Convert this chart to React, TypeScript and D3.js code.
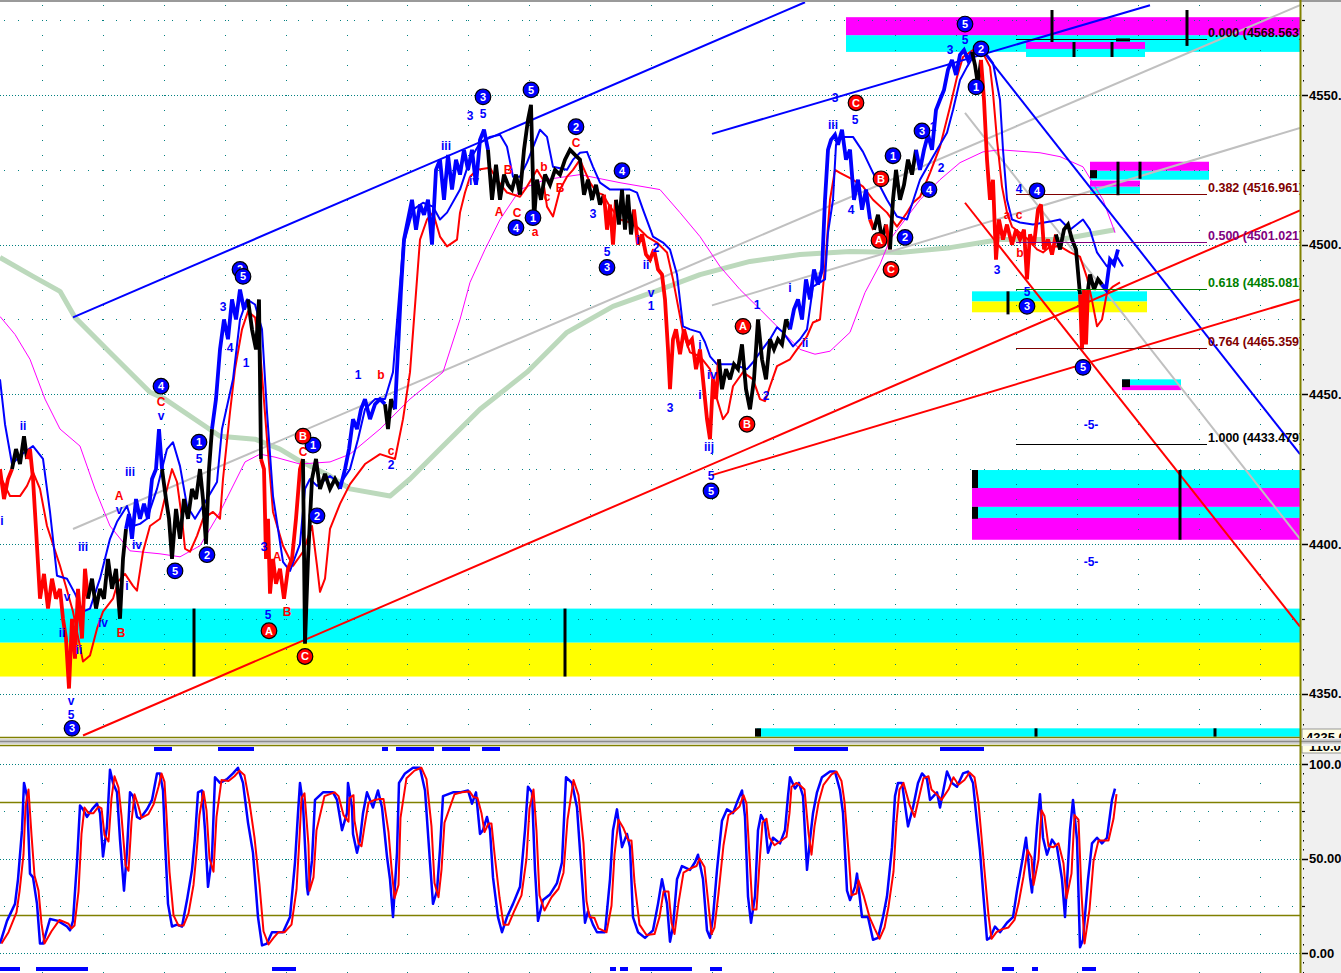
import React from "react";
import * as d3 from "d3";

const FONT = "'Liberation Sans', Arial, Helvetica, sans-serif";

// ---------------- DATA ----------------
// main price path [time, price, trend state b=up r=down k=neutral]
const pricePath: [number, number, string][] = [
  [0,4425.0,'r'],[4,4415.0,'r'],[8,4421.7,'r'],[12,4425.0,'r'],
  [16,4431.7,'k'],[20,4426.7,'k'],[24,4436.0,'k'],[27,4428.4,'k'],
  [30,4431.7,'r'],[33,4421.7,'r'],[36,4405.0,'r'],[40,4381.7,'r'],[44,4390.0,'r'],[48,4378.4,'r'],[52,4388.4,'r'],[56,4381.7,'r'],[60,4385.0,'r'],[63,4375.0,'r'],[66,4368.4,'r'],[69,4351.7,'r'],[72,4375.0,'r'],[75,4361.7,'r'],[78,4385.0,'r'],[82,4368.4,'r'],[85,4391.7,'r'],[88,4381.7,'r'],
  [92,4388.4,'k'],[96,4378.4,'k'],[100,4385.0,'k'],[104,4381.7,'k'],[108,4395.0,'k'],[112,4385.0,'k'],[116,4391.7,'k'],[120,4375.0,'k'],[123,4395.0,'k'],[126,4405.0,'k'],
  [129,4410.0,'b'],[132,4401.7,'b'],[136,4415.0,'b'],[140,4408.4,'b'],[144,4413.4,'b'],[148,4408.4,'b'],[152,4421.7,'b'],[156,4425.0,'b'],[159,4438.4,'b'],[162,4425.0,'b'],
  [166,4415.0,'k'],[169,4408.4,'k'],[172,4395.0,'k'],[176,4411.7,'k'],[180,4401.7,'k'],[184,4415.0,'k'],[188,4408.4,'k'],[192,4418.4,'k'],[196,4415.0,'k'],[200,4425.0,'k'],[203,4415.0,'k'],[206,4400.0,'k'],[209,4425.0,'k'],[212,4438.4,'k'],
  [216,4448.4,'b'],[220,4465.0,'b'],[224,4475.0,'b'],[228,4468.4,'b'],[232,4481.7,'b'],[236,4475.0,'b'],[240,4485.0,'b'],[244,4478.4,'b'],[248,4481.7,'b'],
  [252,4471.7,'k'],[256,4465.0,'k'],[259,4481.7,'k'],[261,4428.4,'k'],
  [264,4425.0,'r'],[266,4395.0,'r'],[268,4408.4,'r'],[270,4383.4,'r'],[273,4395.0,'r'],[276,4386.7,'r'],[280,4391.7,'r'],[284,4381.7,'r'],[288,4391.7,'r'],[292,4395.0,'r'],[296,4408.4,'r'],[300,4425.0,'r'],[303,4428.4,'r'],
  [305,4366.7,'k'],[308,4395.0,'k'],[312,4421.7,'k'],[316,4428.4,'k'],[320,4418.4,'k'],[325,4423.4,'k'],[330,4418.4,'k'],[335,4421.7,'k'],[340,4418.4,'k'],
  [345,4425.0,'b'],[349,4431.7,'b'],[353,4441.7,'b'],[357,4438.4,'b'],[361,4445.0,'b'],[365,4448.4,'b'],[370,4441.7,'b'],[375,4446.7,'b'],[380,4448.4,'b'],[385,4446.7,'b'],
  [388,4438.4,'k'],[391,4448.4,'k'],[395,4445.0,'k'],
  [398,4465.0,'b'],[401,4485.0,'b'],[404,4501.7,'b'],[408,4508.4,'b'],[412,4515.0,'b'],[416,4505.0,'b'],[420,4513.4,'b'],[424,4510.0,'b'],[428,4515.0,'b'],[432,4500.0,'b'],[436,4525.0,'b'],[440,4528.4,'b'],[444,4515.0,'b'],[448,4530.0,'b'],[452,4518.4,'b'],[456,4528.4,'b'],[460,4523.4,'b'],[464,4531.7,'b'],[468,4525.0,'b'],[472,4531.7,'b'],[476,4520.0,'b'],[480,4535.0,'b'],[484,4538.4,'b'],[488,4531.7,'b'],
  [492,4515.0,'k'],[496,4526.7,'k'],[500,4515.0,'k'],[504,4523.4,'k'],[508,4520.0,'k'],[512,4518.4,'k'],[516,4523.4,'k'],[520,4516.7,'k'],[524,4531.7,'k'],[528,4541.7,'k'],[531,4546.7,'k'],[534,4508.4,'k'],[537,4521.7,'k'],[541,4515.0,'k'],[545,4523.4,'k'],[550,4520.0,'k'],[555,4525.0,'k'],[560,4523.4,'k'],[565,4528.4,'k'],[570,4531.7,'k'],[575,4530.0,'k'],[580,4528.4,'k'],[584,4516.7,'k'],[588,4521.7,'k'],[592,4515.0,'k'],[596,4520.0,'k'],[600,4513.4,'k'],[604,4516.7,'k'],
  [607,4505.0,'r'],[610,4513.4,'r'],[613,4500.0,'r'],[616,4515.0,'r'],
  [619,4506.7,'k'],[622,4518.4,'k'],[625,4505.0,'k'],[628,4516.7,'k'],[631,4503.4,'k'],[634,4511.7,'k'],
  [638,4500.0,'r'],[642,4503.4,'r'],[646,4496.7,'r'],[650,4495.0,'r'],[654,4498.4,'r'],[658,4491.7,'r'],[662,4490.0,'r'],[665,4481.7,'r'],[668,4465.0,'r'],[670,4451.7,'r'],[673,4468.4,'r'],[676,4471.7,'r'],[680,4463.4,'r'],[684,4471.7,'r'],[688,4466.7,'r'],[692,4468.4,'r'],[696,4458.4,'r'],[700,4465.0,'r'],[704,4451.7,'r'],[707,4441.7,'r'],[710,4435.0,'r'],[713,4455.0,'r'],[716,4448.4,'r'],[719,4461.7,'r'],
  [722,4451.7,'k'],[726,4458.4,'k'],[730,4455.0,'k'],[734,4460.0,'k'],[738,4458.4,'k'],[742,4466.7,'k'],[746,4451.7,'k'],[750,4445.0,'k'],[754,4455.0,'k'],[758,4475.0,'k'],[762,4461.7,'k'],[766,4455.0,'k'],[770,4468.4,'k'],[774,4465.0,'k'],[778,4468.4,'k'],[782,4466.7,'k'],[786,4475.0,'k'],[790,4471.7,'k'],
  [794,4478.4,'b'],[798,4481.7,'b'],[802,4475.0,'b'],[806,4488.4,'b'],[810,4481.7,'b'],[814,4491.7,'b'],[818,4486.7,'b'],[822,4491.7,'b'],[825,4515.0,'b'],[828,4531.7,'b'],[831,4535.0,'b'],[835,4536.7,'b'],[838,4533.4,'b'],[842,4538.4,'b'],[846,4528.4,'b'],[850,4531.7,'b'],[854,4515.0,'b'],[858,4521.7,'b'],[862,4511.7,'b'],[866,4518.4,'b'],[870,4508.4,'b'],
  [874,4505.0,'r'],[878,4510.0,'k'],[882,4501.7,'k'],[886,4506.7,'k'],[890,4498.4,'r'],[893,4515.0,'k'],[896,4525.0,'k'],[900,4515.0,'k'],[904,4520.0,'k'],[908,4528.4,'k'],[912,4523.4,'k'],[916,4531.7,'k'],
  [920,4525.0,'b'],[924,4531.7,'b'],[928,4536.7,'b'],[932,4531.7,'b'],[936,4545.0,'b'],[940,4548.4,'b'],[944,4551.7,'b'],[948,4558.4,'b'],[952,4561.7,'b'],[956,4556.7,'b'],[960,4563.4,'b'],[964,4565.0,'b'],[968,4561.7,'b'],[972,4564.4,'b'],
  [975,4560.0,'k'],[978,4553.4,'k'],[981,4561.7,'k'],
  [984,4548.4,'r'],[987,4528.4,'r'],[990,4515.0,'r'],[993,4521.7,'r'],[996,4495.0,'r'],[999,4508.4,'r'],[1003,4501.7,'r'],[1007,4506.7,'r'],[1012,4500.0,'r'],[1016,4505.0,'r'],[1020,4501.7,'r'],[1024,4505.0,'r'],[1027,4488.4,'r'],[1030,4503.4,'r'],[1034,4500.0,'r'],[1038,4511.7,'r'],[1041,4513.4,'r'],[1044,4498.4,'r'],[1048,4501.7,'r'],[1052,4496.7,'r'],[1056,4503.4,'r'],
  [1060,4498.4,'k'],[1064,4505.0,'k'],[1068,4506.7,'k'],[1072,4501.7,'k'],[1076,4498.4,'k'],[1080,4483.4,'k'],
  [1082,4465.0,'r'],[1084,4485.0,'r'],[1086,4466.7,'r'],[1088,4485.0,'r'],
  [1090,4490.0,'k'],[1094,4485.0,'k'],[1098,4488.4,'k'],[1102,4486.7,'k'],
  [1106,4485.0,'b'],[1110,4495.0,'b'],[1114,4493.4,'b'],[1118,4498.4,'b'],
];

// upper (blue) and lower (red) smoothed bands
const upperBand: [number, number][] = [
  [0,4455.0],[5,4440.0],[12,4426.7],[22,4430.0],[33,4432.7],[43,4428.4],[50,4410.7],[57,4389.4],[67,4388.4],[75,4383.4],[83,4377.4],[90,4378.4],[100,4388.4],[110,4401.7],[117,4407.4],[127,4412.7],[133,4406.0],[140,4406.7],[147,4408.4],[157,4418.4],[167,4431.7],[173,4434.0],[180,4426.0],[187,4412.7],[195,4408.4],[207,4415.0],[217,4420.7],[222,4438.4],[233,4455.0],[240,4475.0],[247,4481.7],[255,4480.0],[262,4471.7],[267,4444.0],[273,4416.0],[283,4394.0],[290,4391.0],[300,4400.0],[305,4418.4],[310,4421.7],[317,4419.4],[330,4422.7],[340,4420.0],[350,4425.0],[358,4435.0],[365,4445.0],[375,4448.4],[385,4448.4],[393,4457.4],[403,4499.4],[413,4511.7],[423,4514.0],[433,4512.7],[440,4508.4],[447,4510.7],[460,4518.4],[470,4528.4],[480,4534.0],[490,4536.0],[500,4536.7],[507,4532.7],[513,4522.7],[520,4522.7],[527,4527.4],[540,4538.4],[547,4536.0],[553,4526.0],[567,4525.0],[573,4528.4],[580,4530.7],[587,4531.0],[593,4526.0],[600,4520.7],[610,4518.4],[630,4518.4],[637,4517.4],[643,4511.7],[653,4502.7],[663,4500.7],[670,4498.4],[677,4490.0],[683,4472.7],[690,4471.7],[700,4470.7],[705,4467.4],[710,4462.7],[717,4460.0],[733,4460.0],[747,4458.4],[753,4460.7],[760,4464.0],[770,4468.4],[777,4472.4],[783,4470.7],[793,4466.0],[800,4468.4],[807,4471.7],[813,4486.0],[825,4488.4],[828,4504.0],[833,4515.0],[836,4533.4],[840,4536.0],[853,4536.0],[863,4531.0],[873,4524.0],[887,4515.0],[897,4509.4],[907,4508.4],[920,4521.7],[933,4529.4],[947,4537.4],[953,4545.0],[960,4555.0],[967,4559.4],[977,4565.0],[987,4563.4],[993,4560.7],[1000,4548.4],[1003,4531.7],[1007,4515.0],[1012,4508.4],[1020,4507.4],[1033,4506.7],[1050,4507.7],[1060,4508.4],[1070,4505.0],[1083,4508.4],[1090,4505.0],[1097,4497.4],[1107,4492.7],[1117,4496.0],[1123,4492.7],
];
const lowerBand: [number, number][] = [
  [0,4422.7],[10,4416.0],[20,4416.0],[27,4419.4],[33,4424.0],[40,4418.4],[47,4406.0],[60,4392.7],[73,4377.4],[83,4360.7],[90,4362.7],[97,4371.7],[103,4377.4],[113,4381.7],[118,4387.4],[125,4390.0],[133,4386.0],[137,4384.4],[143,4397.4],[150,4406.0],[160,4408.4],[167,4418.4],[172,4425.0],[177,4420.7],[182,4408.4],[185,4398.4],[190,4397.4],[197,4402.7],[203,4408.4],[213,4410.7],[220,4408.4],[223,4421.7],[230,4444.0],[235,4458.4],[242,4471.7],[248,4477.7],[255,4475.7],[260,4465.0],[267,4435.0],[273,4410.7],[283,4399.4],[293,4392.7],[303,4397.4],[312,4406.0],[317,4392.7],[320,4384.0],[325,4388.4],[330,4405.0],[340,4413.4],[350,4420.0],[365,4426.7],[380,4430.0],[395,4428.4],[403,4441.7],[410,4457.4],[417,4488.4],[420,4501.7],[427,4508.4],[433,4510.7],[440,4502.7],[447,4499.4],[457,4501.7],[460,4510.7],[465,4517.4],[470,4522.7],[477,4525.0],[490,4525.7],[497,4521.7],[507,4517.4],[520,4516.0],[527,4519.4],[537,4525.0],[543,4521.7],[547,4512.7],[553,4509.4],[560,4518.4],[567,4522.7],[573,4525.0],[580,4528.4],[583,4526.0],[590,4520.7],[597,4517.4],[603,4516.7],[610,4512.7],[620,4508.4],[630,4507.4],[637,4506.0],[647,4502.7],[657,4500.7],[667,4497.4],[673,4488.4],[683,4470.7],[690,4464.0],[700,4462.7],[710,4458.4],[717,4448.4],[723,4441.7],[728,4444.0],[733,4452.7],[743,4457.4],[753,4455.0],[760,4448.4],[765,4447.7],[770,4452.7],[777,4459.4],[790,4461.7],[797,4465.0],[807,4469.4],[813,4474.0],[820,4475.0],[825,4492.7],[830,4515.0],[835,4525.0],[840,4524.0],[853,4521.7],[863,4519.4],[873,4515.0],[887,4510.7],[897,4506.0],[907,4510.7],[913,4514.0],[920,4516.0],[930,4524.0],[940,4532.7],[950,4546.0],[957,4556.0],[963,4562.7],[973,4565.0],[983,4564.0],[990,4559.4],[993,4550.7],[997,4535.0],[1002,4519.4],[1007,4510.7],[1012,4506.0],[1020,4504.0],[1028,4501.7],[1037,4498.4],[1043,4497.4],[1050,4499.4],[1060,4499.4],[1070,4497.4],[1080,4496.0],[1087,4489.0],[1092,4481.4],[1097,4472.7],[1102,4475.0],[1107,4484.0],[1113,4486.0],[1120,4487.4],
];
// thin magenta average
const mediumAverage: [number, number][] = [
  [0,4476.0],[15,4470.0],[30,4461.7],[45,4448.4],[60,4438.4],[80,4432.7],[95,4418.4],[110,4406.0],[130,4397.7],[160,4396.7],[180,4395.7],[200,4399.4],[220,4410.7],[245,4427.4],[260,4430.0],[275,4429.0],[300,4426.7],[330,4427.4],[350,4430.0],[380,4438.4],[410,4448.4],[443,4457.4],[460,4475.0],[470,4487.4],[485,4498.4],[500,4508.4],[520,4518.4],[545,4521.7],[580,4523.4],[620,4520.7],[660,4518.4],[680,4510.7],[700,4502.7],[720,4492.7],[740,4485.0],[760,4478.4],[780,4471.7],[800,4465.0],[815,4463.4],[830,4464.4],[850,4470.7],[865,4484.0],[880,4493.4],[890,4501.7],[920,4515.0],[940,4521.7],[960,4527.4],[983,4531.0],[1000,4531.7],[1040,4530.7],[1060,4529.4],[1083,4526.0],[1103,4515.0],[1115,4504.0],
];
// thick sage long average
const longAverage: [number, number][] = [
  [0,4495.7],[33,4489.4],[60,4484.4],[75,4475.7],[110,4464.0],[150,4450.7],[165,4448.4],[220,4436.0],[255,4435.0],[280,4431.7],[300,4427.7],[330,4422.7],[350,4418.4],[390,4416.0],[410,4421.7],[440,4431.7],[480,4445.0],[527,4457.4],[567,4470.7],[613,4479.4],[660,4485.0],[700,4490.0],[750,4494.4],[800,4496.7],[850,4497.7],[900,4497.4],[950,4499.0],[1000,4501.7],[1060,4501.7],[1115,4505.0],
];

// trendlines [t1, p1, t2, p2]
const blueTrendlines: [number, number, number, number][] = [
  [73,4475.7,805,4581.0],[712,4537.0,1150,4580.0],[982,4565.0,1300,4430.0],
];
const grayTrendlines: [number, number, number, number][] = [
  [73,4405.0,1300,4580.0],[712,4479.7,1300,4539.0],[965,4544.0,1300,4401.7],
];
const redTrendlines: [number, number, number, number][] = [
  [83,4336.0,1300,4511.4],[712,4423.0,1300,4481.7],[965,4514.0,1300,4372.4],
];

// Fibonacci retracement
const fibHigh = 4568.563;
const fibLow = 4433.479;
const fibRatios = [0, 0.382, 0.5, 0.618, 0.764, 1];
const fibSpan: [number, number] = [1016, 1207];

// zones [t1, t2, pTop, pBottom]
const cyanZones: [number, number, number, number][] = [
  [846,1300,4570.0,4564.4],[1026,1145,4565.4,4562.7],[1090,1209,4524.7,4521.7],[1090,1140,4519.4,4517.0],
  [972,1147,4484.4,4481.0],[1122,1181,4455.0,4453.0],[972,1300,4424.7,4418.7],[972,1300,4412.4,4408.7],
  [0,1300,4378.4,4367.0],[757,1300,4338.4,4335.6],
];
const magentaZones: [number, number, number, number][] = [
  [846,1300,4576.0,4570.0],[1026,1145,4567.7,4565.4],[1090,1209,4527.7,4524.7],[1090,1140,4521.4,4519.4],
  [1122,1181,4453.0,4451.4],[972,1300,4418.7,4412.4],[972,1300,4408.7,4401.4],
];
const yellowZones: [number, number, number, number][] = [
  [972,1147,4481.0,4477.4],[0,1300,4367.0,4355.7],
];
const rangeBars: [number, number, number][] = [
  [1052,4578.4,4567.7],[1074,4567.7,4562.7],[1112,4567.7,4562.7],[1187,4578.4,4566.4],
  [1118,4527.7,4516.5],[1140,4527.7,4522.0],[1008,4484.4,4476.7],[1180,4424.7,4401.4],
  [194,4378.4,4355.7],[565,4378.4,4355.7],[1036,4338.4,4335.6],[1215,4338.4,4335.6],
];
const blockMarks: [number, number, number, number][] = [
  [1090,1097,4524.9,4522.2],[1122,1130,4455.0,4452.4],[972,978,4424.7,4418.7],[972,978,4412.4,4408.4],
  [755,761,4338.4,4335.6],[1116,1130,4568.9,4567.9],
];

// wave labels [t, price, text]
const circledBlue: [number, number, string][] = [
  [72,4338.4,'3'],[161,4452.7,'4'],[175,4391.0,'5'],[199,4434.0,'1'],[207,4396.4,'2'],[240,4491.7,'2'],[243,4489.4,'5'],
  [313,4433.0,'1'],[317,4409.4,'2'],[483,4549.4,'3'],[531,4551.7,'5'],[516,4505.7,'4'],[533,4509.0,'1'],[576,4539.4,'2'],
  [622,4524.7,'4'],[607,4492.4,'3'],[711,4417.7,'5'],[893,4529.7,'1'],[922,4538.0,'3'],[929,4518.4,'4'],[905,4502.4,'2'],
  [965,4573.7,'5'],[981,4565.4,'2'],[976,4552.7,'1'],[1037,4518.0,'4'],[1027,4479.4,'3'],[1083,4459.0,'5'],
];
const circledRed: [number, number, string][] = [
  [269,4371.0,'A'],[303,4436.0,'B'],[305,4362.4,'C'],[743,4472.7,'A'],[747,4440.0,'B'],[856,4547.4,'C'],
  [881,4522.0,'B'],[879,4501.4,'A'],[891,4491.7,'C'],
];
const textBlue: [number, number, string][] = [
  [2,4407.7,'i'],[23,4439.4,'ii'],[62,4370.4,'ii'],[79,4364.7,'ii'],[83,4399.0,'iii'],[67,4382.4,'v'],[71,4347.7,'v'],[71,4343.0,'5'],
  [103,4373.7,'iv'],[119,4411.4,'v'],[130,4424.0,'iii'],[137,4399.7,'iv'],[127,4386.0,'i'],[161,4443.0,'v'],[199,4428.4,'5'],
  [223,4479.4,'3'],[230,4465.7,'4'],[246,4460.7,'1'],[264,4399.0,'3'],[268,4376.4,'5'],[358,4456.7,'1'],[391,4426.4,'2'],
  [399,4469.4,'i'],[446,4533.0,'iii'],[474,4521.4,'iv'],[470,4543.0,'3'],[483,4543.7,'5'],[593,4510.4,'3'],[607,4497.7,'5'],
  [638,4501.7,'i'],[646,4493.4,'ii'],[651,4484.0,'v'],[651,4479.7,'1'],[656,4499.0,'2'],[670,4445.4,'3'],[700,4466.7,'i'],
  [700,4450.0,'i'],[712,4456.7,'iv'],[709,4432.4,'iij'],[711,4422.7,'5'],[757,4480.0,'1'],[766,4449.4,'2'],[790,4485.7,'i'],
  [805,4467.4,'ii'],[833,4540.0,'iii'],[855,4541.7,'5'],[851,4511.7,'4'],[835,4549.0,'3'],[950,4565.0,'3'],[965,4568.4,'5'],
  [933,4539.4,'1'],[941,4525.7,'2'],[997,4491.7,'3'],[1019,4518.7,'4'],[1027,4484.4,'5'],[1091,4439.7,'-5-'],[1091,4394.0,'-5-'],
];
const textRed: [number, number, string][] = [
  [161,4447.7,'C'],[119,4416.0,'A'],[121,4370.4,'B'],[277,4395.7,'A'],[287,4377.4,'B'],[303,4430.7,'C'],[381,4456.7,'b'],
  [391,4431.0,'c'],[499,4511.0,'A'],[517,4510.7,'C'],[535,4504.4,'a'],[508,4525.0,'B'],[544,4526.0,'b'],[576,4534.0,'C'],
  [560,4519.0,'B'],[547,4516.0,'c'],[1007,4510.0,'a'],[1019,4510.0,'c'],[1020,4497.4,'b'],
];

// stochastic %K [t, value]
const stochK: [number, number][] = [
  [0,5],[7,17],[15,26],[18,39],[22,65],[24,90],[27,83],[30,42],[33,40],[37,26],[40,5],[43,5],[50,18],[58,17],[67,14],[70,12],[73,17],[77,48],[80,78],[83,76],[87,72],[92,76],[97,79],[100,74],[103,51],[107,67],[110,97],[113,90],[117,85],[120,60],[124,33],[127,54],[130,85],[133,83],[137,72],[140,71],[147,76],[152,81],[157,95],[160,95],[163,86],[165,60],[168,26],[172,14],[177,15],[182,14],[187,28],[192,44],[195,61],[198,85],[202,86],[205,65],[208,35],[212,51],[215,93],[220,90],[227,92],[233,95],[238,98],[243,90],[248,69],[253,53],[258,19],[262,4],[267,5],[272,11],[277,11],[283,11],[290,19],[295,48],[298,74],[300,90],[303,79],[307,35],[308,31],[312,49],[315,81],[323,85],[333,85],[337,81],[342,65],[347,74],[348,90],[352,77],[353,63],[357,53],[360,60],[363,74],[367,85],[373,77],[378,86],[382,77],[387,51],[390,39],[393,19],[397,53],[399,90],[405,95],[413,98],[420,98],[425,86],[430,48],[433,26],[437,33],[440,55],[443,83],[453,85],[460,85],[468,86],[472,79],[476,85],[480,63],[483,65],[487,72],[490,65],[493,40],[498,19],[502,11],[507,19],[513,26],[520,35],[525,65],[528,88],[532,85],[535,44],[538,17],[543,28],[550,31],[557,37],[562,48],[566,93],[572,90],[577,77],[582,39],[585,16],[588,22],[593,15],[597,11],[605,11],[610,39],[613,65],[617,76],[622,56],[627,63],[630,56],[633,19],[638,11],[645,8],[653,12],[658,26],[662,39],[667,26],[670,6],[673,14],[677,39],[682,46],[690,44],[695,48],[698,52],[703,39],[707,12],[710,8],[713,19],[717,44],[722,70],[727,76],[733,74],[738,81],[742,86],[745,72],[748,30],[751,16],[755,30],[758,65],[761,73],[765,69],[768,53],[773,61],[780,58],[785,65],[788,83],[790,93],[795,87],[799,90],[803,83],[807,44],[810,60],[813,74],[817,85],[822,93],[830,96],[835,96],[840,86],[843,74],[847,33],[850,28],[855,35],[857,42],[862,19],[868,19],[873,7],[878,8],[883,19],[887,30],[892,56],[895,83],[898,90],[902,90],[908,67],[913,77],[918,90],[922,95],[927,92],[930,81],[937,85],[940,77],[947,96],[952,90],[957,88],[963,95],[968,96],[973,90],[977,69],[980,54],[983,33],[987,7],[990,8],[995,14],[1000,11],[1007,16],[1013,19],[1017,33],[1022,48],[1026,61],[1030,40],[1032,32],[1037,67],[1040,84],[1043,61],[1047,52],[1052,60],[1057,56],[1062,39],[1065,19],[1070,65],[1073,81],[1077,60],[1080,3],[1083,7],[1088,39],[1092,58],[1097,61],[1102,58],[1107,61],[1112,81],[1115,87],
];
const oscTopMarks: [number, number][] = [[154,172],[218,254],[382,388],[396,434],[442,470],[482,500],[794,848],[940,984]];
const oscBottomMarks: [number, number][] = [[0,20],[36,88],[272,296],[610,616],[620,628],[640,692],[710,722],[1002,1014],[1032,1038],[1082,1096]];

const priceTicks = [4550, 4500, 4450, 4400, 4350];
const oscTicks: [number, string][] = [[100, '100.0'], [50, '50.00'], [0, '0.00']];

// ---------------- LAYOUT ----------------
const W = 1341, H = 973;
const RIGHT = 1300;
const MAIN_TOP = 2, MAIN_BOT = 737;
const OSC_TOP = 746, OSC_BOT = 973;

const xT = d3.scaleLinear().domain([0, 1300]).range([0, RIGHT]);
const yP = d3.scaleLinear().domain([4350, 4550]).range([693.6, 95]);
const yO = d3.scaleLinear().domain([0, 100]).range([953, 764]);

const lineP = d3.line<[number, number]>().x(d => xT(d[0])).y(d => yP(d[1]));
const lineO = d3.line<[number, number]>().x(d => xT(d[0])).y(d => yO(d[1]));

const TEAL = '#008080';
const OLIVE = '#808000';
const colorOf: Record<string, string> = { b: '#0000ff', r: '#ff0000', k: '#000000' };
const fibColors = ['#1a0000', '#800000', '#800080', '#008000', '#800000', '#000000'];

function priceSegments() {
  const segs: { c: string; pts: [number, number][] }[] = [];
  let cur = { c: pricePath[0][2], pts: [[pricePath[0][0], pricePath[0][1]] as [number, number]] };
  for (let i = 1; i < pricePath.length; i++) {
    const p = pricePath[i];
    if (p[2] === cur.c) cur.pts.push([p[0], p[1]]);
    else {
      segs.push(cur);
      const q = pricePath[i - 1];
      cur = { c: p[2], pts: [[q[0], q[1]], [p[0], p[1]]] };
    }
  }
  segs.push(cur);
  return segs;
}

function stochD(): [number, number][] {
  return stochK.map((d, i) => {
    const prev = stochK[Math.max(0, i - 1)];
    return [d[0], (d[1] + prev[1]) / 2];
  });
}

export default function App() {
  const segs = priceSegments();
  const dLine = stochD();

  const colTs = d3.range(0, 21).map(k => 42 + k * 60.9);
  const mainDotPrices = d3.range(4335, 4581, 5);
  const oscDotVals = d3.range(-10, 111, 10);

  const fibLevels = fibRatios.map(r => ({ r, p: fibHigh - r * (fibHigh - fibLow) }));

  const circle = (d: [number, number, string], fill: string, key: string) => (
    <g key={key} transform={`translate(${xT(d[0])},${yP(d[1])})`}>
      <circle r={7.8} fill={fill} stroke="#000" strokeWidth={1.2} />
      <text textAnchor="middle" dy="0.36em" fontSize={11} fontWeight="bold" fill="#fff" fontFamily={FONT}>{d[2]}</text>
    </g>
  );

  return (
    <svg width={W} height={H} style={{ position: 'absolute', left: 0, top: 0, display: 'block', background: '#fff' }}>
      <style>{`body{margin:0}`}</style>
      <defs>
        <clipPath id="clipMain"><rect x={0} y={MAIN_TOP} width={RIGHT} height={MAIN_BOT - MAIN_TOP} /></clipPath>
        <clipPath id="clipOsc"><rect x={0} y={OSC_TOP} width={RIGHT} height={OSC_BOT - OSC_TOP} /></clipPath>
        <clipPath id="clipAxisMainBottom"><rect x={RIGHT + 1} y={700} width={60} height={38} /></clipPath>
        <clipPath id="clipAxisOscTop"><rect x={RIGHT + 1} y={746} width={60} height={30} /></clipPath>
      </defs>

      <rect x={RIGHT + 1} y={0} width={W - RIGHT} height={H} fill="#f0f0f0" />
      <rect x={0} y={0} width={W} height={2} fill="#9a9a9a" />

      {/* ---------- MAIN PANEL ---------- */}
      <g clipPath="url(#clipMain)">
        {cyanZones.map((z, i) => <rect key={'c' + i} x={xT(z[0])} y={yP(z[2])} width={xT(z[1]) - xT(z[0])} height={yP(z[3]) - yP(z[2])} fill="#00ffff" />)}
        {magentaZones.map((z, i) => <rect key={'m' + i} x={xT(z[0])} y={yP(z[2])} width={xT(z[1]) - xT(z[0])} height={yP(z[3]) - yP(z[2])} fill="#ff00ff" />)}
        {yellowZones.map((z, i) => <rect key={'y' + i} x={xT(z[0])} y={yP(z[2])} width={xT(z[1]) - xT(z[0])} height={yP(z[3]) - yP(z[2])} fill="#ffff00" />)}

        {priceTicks.map(p => <line key={'g' + p} x1={0} x2={RIGHT} y1={Math.round(yP(p)) + 0.5} y2={Math.round(yP(p)) + 0.5} stroke={TEAL} strokeDasharray="1,2" />)}
        {priceTicks.map(p => <line key={'gs' + p} x1={4} x2={RIGHT} y1={Math.round(yP(p + 25)) + 0.5} y2={Math.round(yP(p + 25)) + 0.5} stroke={TEAL} strokeDasharray="1,13" />)}
        {colTs.map((t, i) => (
          <g key={'col' + i}>
            {mainDotPrices.map(p => <rect key={p} x={Math.round(xT(t))} y={Math.round(yP(p))} width={1} height={1} fill={TEAL} />)}
          </g>
        ))}

        <path d={lineP(longAverage) || ''} fill="none" stroke="#bcd9bc" strokeWidth={5} strokeLinejoin="round" />
        {grayTrendlines.map((l, i) => <line key={'gr' + i} x1={xT(l[0])} y1={yP(l[1])} x2={xT(l[2])} y2={yP(l[3])} stroke="#c0c0c0" strokeWidth={2} />)}
        <path d={lineP(mediumAverage) || ''} fill="none" stroke="#ff00ff" strokeWidth={1} />
        <path d={lineP(lowerBand) || ''} fill="none" stroke="#ff0000" strokeWidth={2} strokeLinejoin="round" />
        <path d={lineP(upperBand) || ''} fill="none" stroke="#0000ff" strokeWidth={2} strokeLinejoin="round" />
        {blueTrendlines.map((l, i) => <line key={'bl' + i} x1={xT(l[0])} y1={yP(l[1])} x2={xT(l[2])} y2={yP(l[3])} stroke="#0000ff" strokeWidth={2} />)}
        {redTrendlines.map((l, i) => <line key={'rl' + i} x1={xT(l[0])} y1={yP(l[1])} x2={xT(l[2])} y2={yP(l[3])} stroke="#ff0000" strokeWidth={2} />)}

        {segs.map((s, i) => <path key={'s' + i} d={lineP(s.pts) || ''} fill="none" stroke={colorOf[s.c]} strokeWidth={3.8} strokeLinejoin="miter" strokeMiterlimit={3} />)}

        {fibLevels.map((f, i) => (
          <g key={'f' + i}>
            <line x1={xT(fibSpan[0])} x2={xT(fibSpan[1])} y1={Math.round(yP(f.p)) + 0.5} y2={Math.round(yP(f.p)) + 0.5} stroke={fibColors[i]} strokeWidth={1.2} />
            <text x={xT(fibSpan[1]) + 1} y={yP(f.p) - 2} fontSize={12.5} fontWeight="bold" fill={fibColors[i]} fontFamily={FONT}>
              {`${f.r.toFixed(3)} (${f.p.toFixed(3)})`}
            </text>
          </g>
        ))}

        {rangeBars.map((b, i) => <line key={'rb' + i} x1={xT(b[0])} x2={xT(b[0])} y1={yP(b[1])} y2={yP(b[2])} stroke="#000" strokeWidth={3} />)}
        {blockMarks.map((b, i) => <rect key={'bm' + i} x={xT(b[0])} y={yP(b[2])} width={xT(b[1]) - xT(b[0])} height={yP(b[3]) - yP(b[2])} fill="#000" />)}

        {textBlue.map((d, i) => <text key={'tb' + i} x={xT(d[0])} y={yP(d[1])} dy="0.36em" textAnchor="middle" fontSize={12} fontWeight="bold" fill="#0000ff" fontFamily={FONT}>{d[2]}</text>)}
        {textRed.map((d, i) => <text key={'tr' + i} x={xT(d[0])} y={yP(d[1])} dy="0.36em" textAnchor="middle" fontSize={12} fontWeight="bold" fill="#ff0000" fontFamily={FONT}>{d[2]}</text>)}
        {circledBlue.map((d, i) => circle(d, '#0000ff', 'cb' + i))}
        {circledRed.map((d, i) => circle(d, '#ff0000', 'cr' + i))}
      </g>

      {/* main right axis */}
      {mainDotPrices.map(p => {
        const y = Math.round(yP(p)) + 0.5;
        if (p % 50 === 0) return <line key={'at' + p} x1={RIGHT + 2} x2={RIGHT + 8} y1={y} y2={y} stroke="#000" strokeWidth={1.5} />;
        if (p % 25 === 0) return <line key={'at' + p} x1={RIGHT + 2} x2={RIGHT + 5} y1={y} y2={y} stroke="#000" strokeWidth={1.2} />;
        return <rect key={'at' + p} x={RIGHT + 3} y={y - 0.5} width={1} height={1.5} fill="#000" />;
      })}
      {priceTicks.map(p => (
        <text key={'al' + p} x={RIGHT + 9} y={yP(p)} dy="0.36em" fontSize={13} fontWeight="bold" fill="#000" fontFamily={FONT}>{`${p}.00`}</text>
      ))}
      <g clipPath="url(#clipAxisMainBottom)">
        <rect x={RIGHT + 2} y={729} width={40} height={10} fill="#ffffe8" stroke="#808080" strokeWidth={0.8} />
        <text x={RIGHT + 6} y={742} fontSize={13} fontWeight="bold" fill="#000" fontFamily={FONT}>4335.00</text>
      </g>
      <g clipPath="url(#clipAxisOscTop)">
        <rect x={RIGHT + 2} y={745} width={40} height={8} fill="#ffffe8" stroke="#808080" strokeWidth={0.8} />
        <text x={RIGHT + 9} y={751} fontSize={13} fontWeight="bold" fill="#000" fontFamily={FONT}>110.0</text>
      </g>

      {/* separator */}
      <line x1={0} x2={RIGHT + 1} y1={737.5} y2={737.5} stroke={OLIVE} strokeWidth={1.5} />
      <rect x={0} y={739} width={W} height={5} fill="#d4d4d4" />
      <line x1={0} x2={W} y1={741.5} y2={741.5} stroke="#8c8c8c" strokeWidth={1.5} />
      <line x1={0} x2={RIGHT + 1} y1={745.5} y2={745.5} stroke={OLIVE} strokeWidth={1.5} />

      {/* ---------- OSCILLATOR PANEL ---------- */}
      <g clipPath="url(#clipOsc)">
        {oscTicks.map(([v]) => <line key={'og' + v} x1={0} x2={RIGHT} y1={Math.round(yO(v)) + 0.5} y2={Math.round(yO(v)) + 0.5} stroke={TEAL} strokeDasharray="1,2" />)}
        {[75, 25].map(v => <line key={'ogs' + v} x1={4} x2={RIGHT} y1={Math.round(yO(v)) + 0.5} y2={Math.round(yO(v)) + 0.5} stroke={TEAL} strokeDasharray="1,13" />)}
        {colTs.map((t, i) => (
          <g key={'oc' + i}>
            {oscDotVals.map(v => <rect key={v} x={Math.round(xT(t))} y={Math.round(yO(v))} width={1} height={1} fill={TEAL} />)}
          </g>
        ))}
        {[80, 20].map(v => <line key={'ol' + v} x1={0} x2={RIGHT} y1={Math.round(yO(v)) + 0.5} y2={Math.round(yO(v)) + 0.5} stroke={OLIVE} strokeWidth={1.5} />)}
        {oscTopMarks.map((m, i) => <rect key={'otm' + i} x={xT(m[0])} y={747} width={xT(m[1]) - xT(m[0])} height={4} fill="#0000ff" />)}
        {oscBottomMarks.map((m, i) => <rect key={'obm' + i} x={xT(m[0])} y={967} width={xT(m[1]) - xT(m[0])} height={4} fill="#0000ff" />)}
        <path d={lineO(stochK) || ''} fill="none" stroke="#0000ff" strokeWidth={2.5} strokeLinejoin="round" />
        <path d={lineO(dLine.map(d => [d[0] + 1.5, d[1]] as [number, number])) || ''} fill="none" stroke="#ff0000" strokeWidth={2} strokeLinejoin="round" />
      </g>

      {/* oscillator axis */}
      {d3.range(-10, 111, 5).map(v => {
        const y = Math.round(yO(v)) + 0.5;
        if (y < OSC_TOP + 2) return null;
        if (v % 50 === 0) return <line key={'ot' + v} x1={RIGHT + 2} x2={RIGHT + 8} y1={y} y2={y} stroke="#000" strokeWidth={1.5} />;
        if (v % 25 === 0) return <line key={'ot' + v} x1={RIGHT + 2} x2={RIGHT + 5} y1={y} y2={y} stroke="#000" strokeWidth={1.2} />;
        return <rect key={'ot' + v} x={RIGHT + 3} y={y - 0.5} width={1} height={1.5} fill="#000" />;
      })}
      {oscTicks.map(([v, s]) => (
        <text key={'ol' + v} x={RIGHT + 9} y={yO(v)} dy="0.36em" fontSize={13} fontWeight="bold" fill="#000" fontFamily={FONT}>{s}</text>
      ))}

      <line x1={RIGHT + 0.5} x2={RIGHT + 0.5} y1={0} y2={H} stroke={OLIVE} strokeWidth={2} />
    </svg>
  );
}
